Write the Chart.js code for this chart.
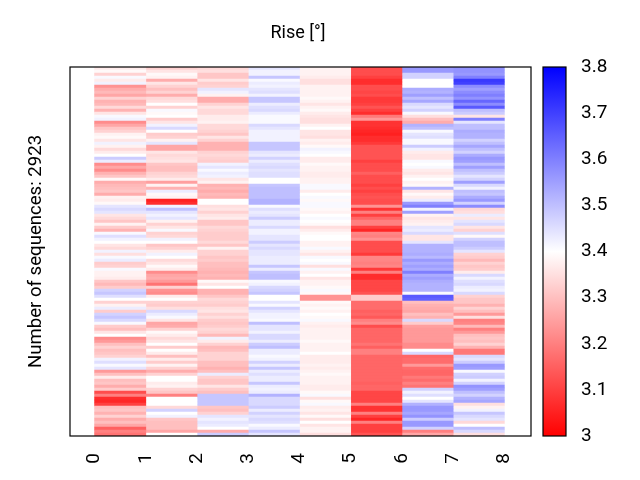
<!DOCTYPE html>
<html><head><meta charset="utf-8">
<script src="https://cdn.jsdelivr.net/npm/chart.js@4"></script>
<style>html,body{margin:0;padding:0;background:#fff}canvas{position:absolute;left:0;top:0}</style>
</head><body>
<canvas id="heat" width="640" height="480"></canvas>
<canvas id="bar" width="640" height="480"></canvas>
<script>
const titleText = "Rise [°]";
const yLabel = "Number of sequences: 2923";
const xTicks = [0,1,2,3,4,5,6,7,8];
const colorbarTicks = [3,3.1,3.2,3.3,3.4,3.5,3.6,3.7,3.8];
const colorbarRange = [3,3.8];
const col0 = [3.37,3.39,3.33,3.41,3.37,3.42,3.23,3.27,3.29,3.26,3.33,3.28,3.29,3.34,3.28,3.36,3.41,3.42,3.22,3.26,3.31,3.33,3.38,3.39,3.36,3.42,3.38,3.34,3.37,3.40,3.48,
3.43,3.22,3.26,3.22,3.28,3.31,3.39,3.27,3.29,3.30,3.31,3.27,3.38,3.37,3.39,3.44,3.46,3.44,3.36,3.34,3.31,3.38,3.32,3.28,3.41,3.45,3.42,3.40,3.36,3.34,3.42,
3.35,3.41,3.43,3.32,3.33,3.41,3.38,3.38,3.37,3.31,3.29,3.32,3.47,3.49,3.45,3.40,3.33,3.38,3.43,3.32,3.47,3.49,3.46,3.41,3.32,3.30,3.36,3.40,3.22,3.24,3.30,
3.33,3.30,3.31,3.33,3.42,3.45,3.41,3.44,3.24,3.30,3.37,3.30,3.31,3.27,3.32,3.12,3.20,3.07,3.06,3.10,3.30,3.31,3.28,3.33,3.27,3.30,3.26,3.15,3.20,3.18];
const col1 = [3.33,3.36,3.39,3.38,3.27,3.36,3.33,3.30,3.33,3.27,3.34,3.35,3.40,3.33,3.41,3.39,3.40,3.32,3.36,3.42,3.46,3.40,3.32,3.33,3.38,3.44,3.26,3.26,3.36,3.34,3.35,
3.36,3.31,3.30,3.30,3.33,3.34,3.37,3.25,3.38,3.28,3.43,3.39,3.38,3.05,3.07,3.42,3.50,3.44,3.42,3.44,3.38,3.33,3.36,3.41,3.33,3.34,3.42,3.40,3.31,3.33,3.37,
3.42,3.40,3.34,3.36,3.39,3.37,3.22,3.26,3.27,3.24,3.18,3.33,3.23,3.22,3.37,3.40,3.33,3.32,3.35,3.46,3.43,3.41,3.36,3.26,3.27,3.33,3.39,3.37,3.34,3.36,3.40,
3.32,3.40,3.37,3.30,3.37,3.32,3.38,3.33,3.27,3.33,3.40,3.40,3.37,3.38,3.33,3.31,3.20,3.40,3.40,3.40,3.34,3.47,3.40,3.42,3.31,3.30,3.30,3.30,3.26,3.40];
const col2 = [3.34,3.35,3.31,3.31,3.36,3.32,3.33,3.44,3.42,3.38,3.27,3.27,3.33,3.36,3.34,3.34,3.37,3.37,3.38,3.34,3.34,3.33,3.31,3.36,3.33,3.28,3.28,3.28,3.33,3.34,3.33,
3.32,3.42,3.44,3.41,3.43,3.42,3.36,3.38,3.28,3.29,3.27,3.29,3.28,3.40,3.40,3.35,3.36,3.33,3.36,3.37,3.31,3.31,3.34,3.33,3.32,3.32,3.32,3.34,3.31,3.38,3.33,
3.33,3.31,3.32,3.30,3.30,3.29,3.28,3.29,3.28,3.39,3.36,3.40,3.28,3.28,3.31,3.34,3.33,3.32,3.35,3.36,3.33,3.35,3.32,3.31,3.32,3.34,3.33,3.29,3.42,3.37,3.33,
3.29,3.30,3.33,3.33,3.33,3.30,3.30,3.28,3.30,3.43,3.33,3.31,3.31,3.36,3.32,3.30,3.49,3.49,3.49,3.49,3.31,3.30,3.33,3.44,3.42,3.44,3.43,3.40,3.27,3.48];
const col3 = [3.44,3.42,3.42,3.49,3.41,3.43,3.42,3.44,3.45,3.42,3.49,3.49,3.43,3.45,3.46,3.43,3.41,3.41,3.41,3.46,3.44,3.42,3.42,3.42,3.42,3.49,3.49,3.49,3.44,3.43,3.47,
3.43,3.45,3.46,3.44,3.45,3.45,3.40,3.40,3.49,3.50,3.50,3.50,3.50,3.52,3.52,3.41,3.45,3.43,3.44,3.48,3.43,3.43,3.46,3.42,3.42,3.44,3.44,3.48,3.44,3.46,3.44,
3.44,3.43,3.43,3.43,3.49,3.43,3.49,3.50,3.50,3.41,3.42,3.46,3.47,3.49,3.40,3.40,3.44,3.41,3.47,3.44,3.42,3.42,3.41,3.50,3.44,3.44,3.42,3.46,3.46,3.43,3.48,
3.50,3.43,3.43,3.41,3.42,3.47,3.43,3.49,3.43,3.45,3.43,3.43,3.49,3.43,3.42,3.43,3.52,3.46,3.46,3.46,3.48,3.43,3.47,3.44,3.46,3.45,3.41,3.43,3.49,3.44];
const col4 = [3.38,3.38,3.38,3.37,3.35,3.35,3.38,3.38,3.38,3.38,3.39,3.38,3.36,3.38,3.39,3.37,3.36,3.35,3.35,3.38,3.40,3.36,3.36,3.35,3.38,3.37,3.39,3.42,3.41,3.40,3.37,
3.37,3.39,3.38,3.38,3.37,3.37,3.38,3.38,3.41,3.41,3.37,3.40,3.41,3.39,3.41,3.41,3.39,3.38,3.40,3.41,3.40,3.39,3.35,3.37,3.39,3.40,3.40,3.38,3.38,3.41,3.38,
3.36,3.41,3.40,3.41,3.35,3.41,3.38,3.40,3.36,3.38,3.38,3.39,3.41,3.39,3.23,3.23,3.39,3.38,3.39,3.38,3.40,3.39,3.41,3.38,3.37,3.38,3.38,3.38,3.38,3.39,3.38,
3.38,3.38,3.40,3.37,3.37,3.37,3.38,3.37,3.38,3.39,3.38,3.38,3.38,3.37,3.37,3.39,3.41,3.35,3.39,3.41,3.37,3.38,3.36,3.39,3.35,3.40,3.36,3.38,3.38,3.35];
const col5 = [3.12,3.12,3.12,3.10,3.07,3.07,3.12,3.12,3.11,3.12,3.09,3.09,3.10,3.13,3.10,3.07,3.19,3.24,3.08,3.08,3.07,3.06,3.05,3.07,3.07,3.09,3.13,3.13,3.13,3.13,3.13,
3.10,3.12,3.12,3.12,3.15,3.12,3.12,3.12,3.10,3.12,3.10,3.12,3.13,3.12,3.12,3.23,3.08,3.20,3.10,3.16,3.20,3.20,3.10,3.06,3.21,3.20,3.23,3.12,3.12,3.12,3.12,
3.09,3.21,3.21,3.20,3.21,3.09,3.20,3.07,3.07,3.11,3.11,3.11,3.11,3.13,3.32,3.32,3.17,3.17,3.17,3.15,3.16,3.14,3.20,3.22,3.12,3.16,3.16,3.16,3.16,3.16,3.18,
3.15,3.20,3.20,3.16,3.16,3.16,3.16,3.16,3.16,3.16,3.16,3.16,3.15,3.16,3.16,3.11,3.11,3.11,3.11,3.20,3.08,3.08,3.20,3.10,3.06,3.20,3.10,3.10,3.10,3.13];
const col6 = [3.56,3.56,3.47,3.47,3.40,3.40,3.40,3.53,3.52,3.55,3.50,3.54,3.46,3.44,3.47,3.41,3.35,3.30,3.27,3.52,3.50,3.41,3.44,3.45,3.41,3.41,3.48,3.42,3.37,3.36,3.36,
3.41,3.40,3.41,3.37,3.36,3.38,3.40,3.38,3.39,3.52,3.36,3.39,3.37,3.43,3.56,3.60,3.42,3.55,3.38,3.36,3.37,3.38,3.44,3.43,3.46,3.36,3.36,3.44,3.52,3.52,3.52,
3.53,3.51,3.56,3.53,3.55,3.53,3.60,3.53,3.55,3.53,3.52,3.52,3.52,3.41,3.66,3.65,3.30,3.28,3.27,3.26,3.30,3.28,3.46,3.32,3.25,3.24,3.24,3.24,3.24,3.24,3.22,
3.22,3.40,3.46,3.16,3.17,3.17,3.24,3.17,3.16,3.16,3.19,3.17,3.20,3.18,3.47,3.42,3.45,3.40,3.44,3.52,3.56,3.56,3.54,3.57,3.48,3.56,3.56,3.47,3.20,3.26];
const col7 = [3.57,3.57,3.56,3.60,3.71,3.70,3.58,3.55,3.58,3.60,3.57,3.64,3.58,3.66,3.50,3.48,3.36,3.60,3.44,3.50,3.50,3.53,3.52,3.52,3.47,3.50,3.54,3.50,3.47,3.53,3.56,
3.55,3.50,3.55,3.50,3.48,3.44,3.47,3.55,3.46,3.42,3.50,3.49,3.53,3.56,3.47,3.58,3.34,3.35,3.43,3.36,3.44,3.46,3.36,3.33,3.45,3.39,3.47,3.50,3.50,3.48,3.44,
3.33,3.32,3.29,3.33,3.31,3.32,3.37,3.46,3.42,3.45,3.46,3.43,3.42,3.46,3.33,3.31,3.31,3.28,3.33,3.30,3.24,3.35,3.20,3.21,3.29,3.20,3.24,3.30,3.31,3.30,3.33,
3.28,3.19,3.19,3.46,3.44,3.48,3.56,3.55,3.41,3.47,3.48,3.42,3.47,3.57,3.55,3.50,3.47,3.52,3.54,3.35,3.38,3.42,3.49,3.46,3.44,3.34,3.40,3.50,3.46,3.35];

const columns = [col0,col1,col2,col3,col4,col5,col6,col7];
const rows = col0.map((_, i) => String(i));
const FONT = "Roboto";

function bwr(v){
  const mid = (colorbarRange[0]+colorbarRange[1])/2, half = (colorbarRange[1]-colorbarRange[0])/2;
  if (v <= mid){ const t = Math.round(255*Math.max(0,(v-colorbarRange[0])/half)); return `rgb(255,${t},${t})`; }
  const t = Math.round(255*Math.max(0,(colorbarRange[1]-v)/half)); return `rgb(${t},${t},255)`;
}
const frame = {
  id:'frame',
  afterDraw(c){
    const a=c.chartArea, g=c.ctx;
    g.save(); g.strokeStyle='#000'; g.lineWidth=1.2;
    g.strokeRect(a.left,a.top,a.right-a.left,a.bottom-a.top); g.restore();
  }
};
const nudgeTitle = {
  id:'nudgeTitle',
  afterLayout(c){ if(c.titleBlock){ c.titleBlock.left-=2.5; c.titleBlock.right-=2.5; } }
};

new Chart(document.getElementById('heat'),{
  type:'bar',
  data:{
    labels:rows,
    datasets:columns.map((vals,c)=>({
      data:vals.map(()=>[c,c+1]),
      backgroundColor:vals.map(bwr),
      borderWidth:0,
      barPercentage:1,
      categoryPercentage:1,
      grouped:false
    }))
  },
  options:{
    indexAxis:'y',
    responsive:false,
    animation:false,
    layout:{padding:{left:0,right:109,top:0,bottom:0}},
    plugins:{
      legend:{display:false},
      tooltip:{enabled:false},
      title:{display:true,fullSize:false,text:titleText,color:'#000',font:{family:FONT,size:18,weight:'normal'},
        padding:{top:23,bottom:22.4}}
    },
    scales:{
      x:{
        type:'linear',min:-0.48,max:8.52,
        grid:{display:false},border:{display:false},
        afterBuildTicks:s=>{s.ticks=xTicks.map(v=>({value:v}));},
        afterFit:s=>{s.height=44;},
        ticks:{autoSkip:false,minRotation:90,maxRotation:90,color:'#000',padding:9,
          font:{family:FONT,size:19},callback:v=>String(v)}
      },
      y:{
        type:'category',reverse:false,
        grid:{display:false},border:{display:false},
        ticks:{display:false},
        afterFit:s=>{s.width=70;},
        title:{display:true,text:yLabel,color:'#000',font:{family:FONT,size:18.6},padding:{top:25,bottom:0}}
      }
    }
  },
  plugins:[frame,nudgeTitle]
});

new Chart(document.getElementById('bar'),{
  type:'bar',
  data:{
    labels:['scale'],
    datasets:[{
      data:[colorbarRange],
      barPercentage:1,categoryPercentage:1,borderWidth:0,
      backgroundColor(ctx){
        const a=ctx.chart.chartArea;
        if(!a) return '#fff';
        const g=ctx.chart.ctx.createLinearGradient(0,a.bottom,0,a.top);
        g.addColorStop(0,bwr(colorbarRange[0]));
        g.addColorStop(0.5,'rgb(255,255,255)');
        g.addColorStop(1,bwr(colorbarRange[1]));
        return g;
      }
    }]
  },
  options:{
    responsive:false,
    animation:false,
    layout:{padding:{left:543,top:67,bottom:0,right:0}},
    plugins:{legend:{display:false},tooltip:{enabled:false},title:{display:false}},
    scales:{
      x:{type:'category',display:true,grid:{display:false},border:{display:false},ticks:{display:false},afterFit:s=>{s.height=44;}},
      y:{
        type:'linear',position:'right',min:colorbarRange[0],max:colorbarRange[1],
        grid:{display:false,drawTicks:false},border:{display:false},
        afterBuildTicks:s=>{s.ticks=colorbarTicks.map(v=>({value:v}));},
        afterFit:s=>{s.width=74;},
        ticks:{color:'#000',padding:15,crossAlign:'near',font:{family:FONT,size:19},
          callback:v=>String(Math.round(v*10)/10)}
      }
    }
  },
  plugins:[frame]
});
</script>
</body></html>
